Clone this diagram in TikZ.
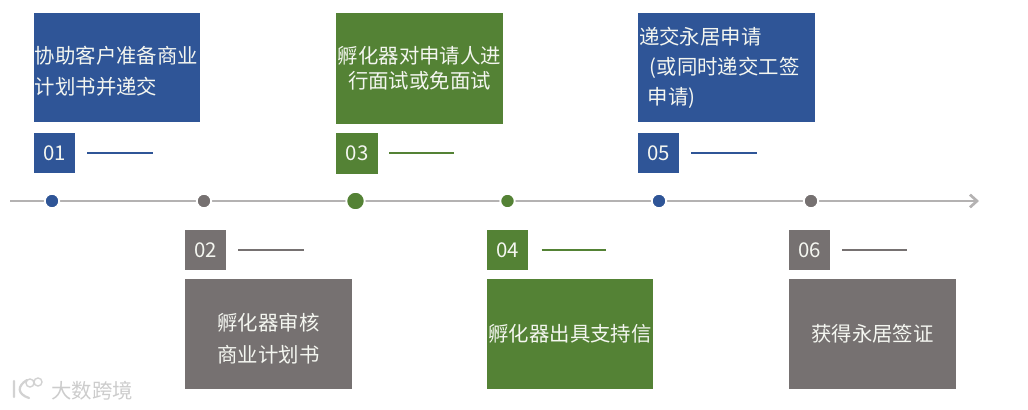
\documentclass[tikz,border=0pt]{standalone}
\usepackage{fontspec}
\setmainfont{Noto Sans CJK SC}
\usepackage{tikz}
\usetikzlibrary{arrows.meta, positioning}
\definecolor{StepBlue}{HTML}{2F5597}
\definecolor{StepGreen}{HTML}{548235}
\definecolor{StepGray}{HTML}{767171}
\definecolor{AxisGray}{HTML}{B4B2B2}
\definecolor{SoftWhite}{HTML}{F4F6F0}
\tikzset{
  bigbox/.style={fill=#1, text=SoftWhite, inner sep=0.03cm, minimum width=4.16cm, minimum height=2.74cm},
  numbox/.style={fill=#1, text=SoftWhite, inner sep=0pt, minimum width=1.03cm, minimum height=1.01cm, font=\fontsize{14.5}{16}\selectfont},
  stepdot/.style={circle, fill=#1, draw=white, line width=1.3pt, inner sep=0pt, minimum size=0.36cm},
  stepline/.style={draw=#1, line width=1.3pt},
  bigtext/.style={font=\fontsize{14.5}{#1}\selectfont}
}
\begin{document}
\begin{tikzpicture}[x=0.025cm, y=-0.025cm]
  \useasboundingbox (0,0) rectangle (1028,409);

  % timeline
  \coordinate (axisstart) at (10,201);
  \coordinate (axisend) at (979,201);
  \draw[AxisGray, line width=1.9pt, -{Straight Barb[length=5pt, width=9pt]}] (axisstart) -- (axisend);
  \node[stepdot=StepBlue] (dot1) at (52,201) {};
  \node[stepdot=StepGray] (dot2) at (204,201) {};
  \node[stepdot=StepGreen, minimum size=0.46cm] (dot3) at (355.5,201) {};
  \node[stepdot=StepGreen] (dot4) at (507.5,201) {};
  \node[stepdot=StepBlue] (dot5) at (659,201) {};
  \node[stepdot=StepGray] (dot6) at (811,201) {};

  % upper steps
  \node[bigbox=StepBlue, text width=4.1cm, align=left, bigtext=22pt] (box1) at (117,67.5) {\rule{0pt}{17pt}协助客户准备商业\\计划书并递交};
  \node[numbox=StepBlue] (num1) at (54.5,153) {01};
  \coordinate (lineend1) at (153,153);
  \draw[stepline=StepBlue] ([xshift=0.3cm]num1.east) -- (lineend1);

  \node[bigbox=StepGreen, minimum height=2.79cm, align=center, bigtext=17.7pt] (box3) at (419.5,68.5) {孵化器对申请人进\\行面试或免面试};
  \node[numbox=StepGreen, minimum width=1.05cm, minimum height=1.03cm] (num3) at (357,153.5) {03};
  \coordinate (lineend3) at (454,153);
  \draw[stepline=StepGreen] ([xshift=0.28cm]num3.east |- lineend3) -- (lineend3);

  \node[bigbox=StepBlue, minimum width=4.43cm, text width=4.37cm, align=left, bigtext=21.3pt] (box5) at (726.5,67.5) {递交永居申请\\\hspace{0.27cm}(或同时递交工签\\\hspace{0.22cm}申请)};
  \node[numbox=StepBlue] (num5) at (658.5,153) {05};
  \coordinate (lineend5) at (757,153);
  \draw[stepline=StepBlue] ([xshift=0.3cm]num5.east) -- (lineend5);

  % lower steps
  \node[numbox=StepGray] (num2) at (205.5,250) {02};
  \coordinate (lineend2) at (304,250);
  \draw[stepline=StepGray] ([xshift=0.3cm]num2.east) -- (lineend2);
  \node[bigbox=StepGray, align=center, bigtext=22.7pt] (box2) at (268.5,334) {\rule{0pt}{18.5pt}孵化器审核\\商业计划书};

  \node[numbox=StepGreen] (num4) at (507.5,250) {04};
  \coordinate (lineend4) at (606,250);
  \draw[stepline=StepGreen] ([xshift=0.33cm]num4.east) -- (lineend4);
  \node[bigbox=StepGreen, align=center, bigtext=17.7pt] (box4) at (570,334) {孵化器出具支持信};

  \node[numbox=StepGray] (num6) at (809.5,250) {06};
  \coordinate (lineend6) at (907,250);
  \draw[stepline=StepGray] ([xshift=0.3cm]num6.east) -- (lineend6);
  \node[bigbox=StepGray, align=center, bigtext=17.7pt] (box6) at (872.5,334) {获得永居签证};

  % watermark
  \draw[gray!35, line width=1.6pt, line cap=round] (14,381) -- (14,397) (27,380) .. controls (17,386) and (17,394) .. (29,398);
  \draw[gray!35, line width=1pt] (30,383) circle (0.1cm) (38,382) circle (0.1cm);
  \node[text=gray!40, font=\fontsize{14.5}{16}\selectfont, inner sep=0pt] (markname) at (92,391) {大数跨境};
\end{tikzpicture}
\end{document}
